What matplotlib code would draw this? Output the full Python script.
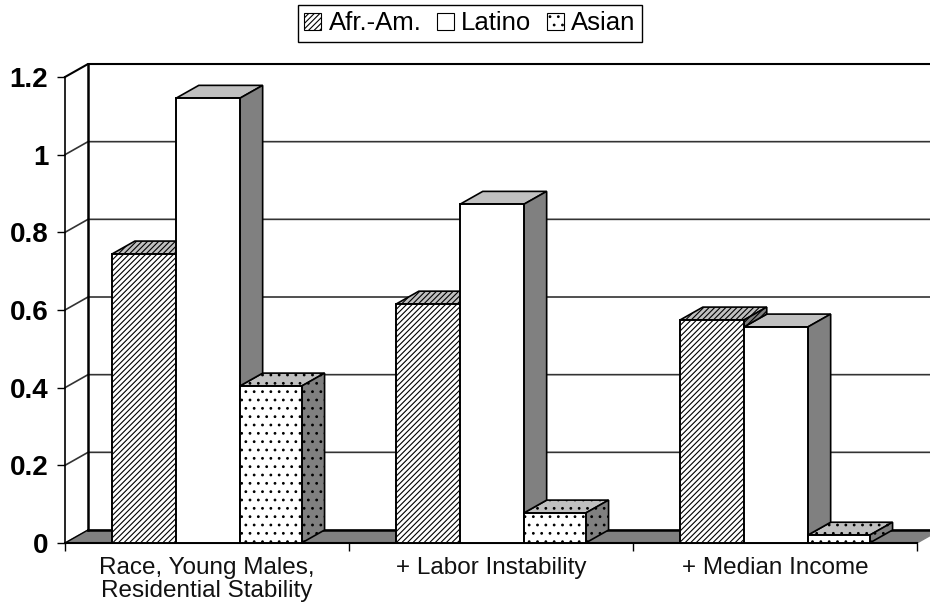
import matplotlib
matplotlib.use("Agg")
import matplotlib.pyplot as plt
from matplotlib.patches import Patch

plt.rcParams["font.family"] = ["Liberation Sans", "DejaVu Sans"]
plt.rcParams["hatch.linewidth"] = 0.8

categories = ["Race, Young Males,\nResidential Stability", "+ Labor Instability", "+ Median Income"]
series_names = ["Afr.-Am.", "Latino", "Asian"]
afr_am = [0.744, 0.615, 0.574]
latino = [1.145, 0.872, 0.556]
asian = [0.404, 0.077, 0.020]
y_ticks = [0, 0.2, 0.4, 0.6, 0.8, 1, 1.2]
y_labels = ["0", "0.2", "0.4", "0.6", "0.8", "1", "1.2"]

series = [afr_am, latino, asian]
hatches = ["//////", "", ".."]
bar_left = [0.165, 0.39, 0.615]
bar_width = [0.225, 0.225, 0.218]

# depth of the fake 3d box, in data units
dx = 23 / 284
dy = 13 / 388.5

fig = plt.figure(figsize=(9.3, 6.07), dpi=100)
ax = fig.add_axes((65 / 930, 64 / 607, 852 / 930, 466 / 607))
ax.set_xlim(0, 3)
ax.set_ylim(0, 1.2)
for s in ax.spines.values():
    s.set_visible(False)

# walls and floor
ax.fill([0, dx, 3 + dx, 3], [0, dy, dy, 0], color="#808080", zorder=1, clip_on=False)
for v in y_ticks[1:-1]:
    ax.plot([0, dx, 3 + dx], [v, v + dy, v + dy], color="#333333", lw=1.2, zorder=0.5, clip_on=False)
ax.plot([0, dx, 3 + dx], [1.2, 1.2 + dy, 1.2 + dy], color="black", lw=1.5, zorder=1, clip_on=False)
ax.plot([dx, dx], [dy, 1.2 + dy], color="black", lw=1.8, zorder=1, clip_on=False)
ax.plot([dx, 3 + dx], [dy, dy], color="black", lw=1.8, zorder=1, clip_on=False)
ax.plot([0, dx], [0, dy], color="black", lw=1, zorder=1, clip_on=False)
ax.plot([0, 0], [0, 1.2], color="black", lw=1.2, zorder=1, clip_on=False)
ax.plot([0, 3], [0, 0], color="black", lw=1.5, zorder=1.5, clip_on=False)

for i, vals in enumerate(series):
    for c, v in enumerate(vals):
        x0 = c + bar_left[i]
        x1 = x0 + bar_width[i]
        # top face
        ax.fill([x0, x1, x1 + dx, x0 + dx], [v, v, v + dy, v + dy],
                facecolor="#c0c0c0", edgecolor="black", hatch=hatches[i], lw=1.2,
                zorder=2, clip_on=False)
        # side face, only the part above the next bar shows
        floor = series[i + 1][c] if i < 2 else 0
        if floor < v:
            ax.fill([x1, x1 + dx, x1 + dx, x1], [floor, floor + dy, v + dy, v],
                    facecolor="#808080", edgecolor="black", hatch=hatches[i], lw=1.2,
                    zorder=2.5, clip_on=False)
        ax.bar(x0, v, width=bar_width[i], align="edge", facecolor="white", edgecolor="black",
               hatch=hatches[i], lw=1.4, zorder=3, clip_on=False)

ax.set_yticks(y_ticks)
ax.set_yticklabels(y_labels, fontsize=20, fontweight="bold")
ax.set_xticks([0, 1, 2, 3])
ax.set_xticklabels([])
ax.set_xticks([0.5, 1.5, 2.5], minor=True)
ax.set_xticklabels(categories, minor=True, fontsize=17.5, linespacing=1.05)
ax.tick_params(axis="x", which="minor", length=0, pad=10, colors="#111111")
ax.tick_params(axis="both", which="major", length=6, width=1, color="black")
ax.tick_params(axis="y", pad=6)

handles = [Patch(facecolor="white", edgecolor="black", hatch=h, lw=0.8) for h in hatches]
fig.legend(handles, series_names, loc="center", bbox_to_anchor=(470 / 930, 1 - 23.5 / 607),
           ncols=3, frameon=True, fancybox=False, edgecolor="black", framealpha=1,
           fontsize=18.5, handlelength=0.65, handleheight=0.65, handletextpad=0.3,
           columnspacing=0.6, borderpad=0.25)

fig.savefig("out.png", dpi=100)
